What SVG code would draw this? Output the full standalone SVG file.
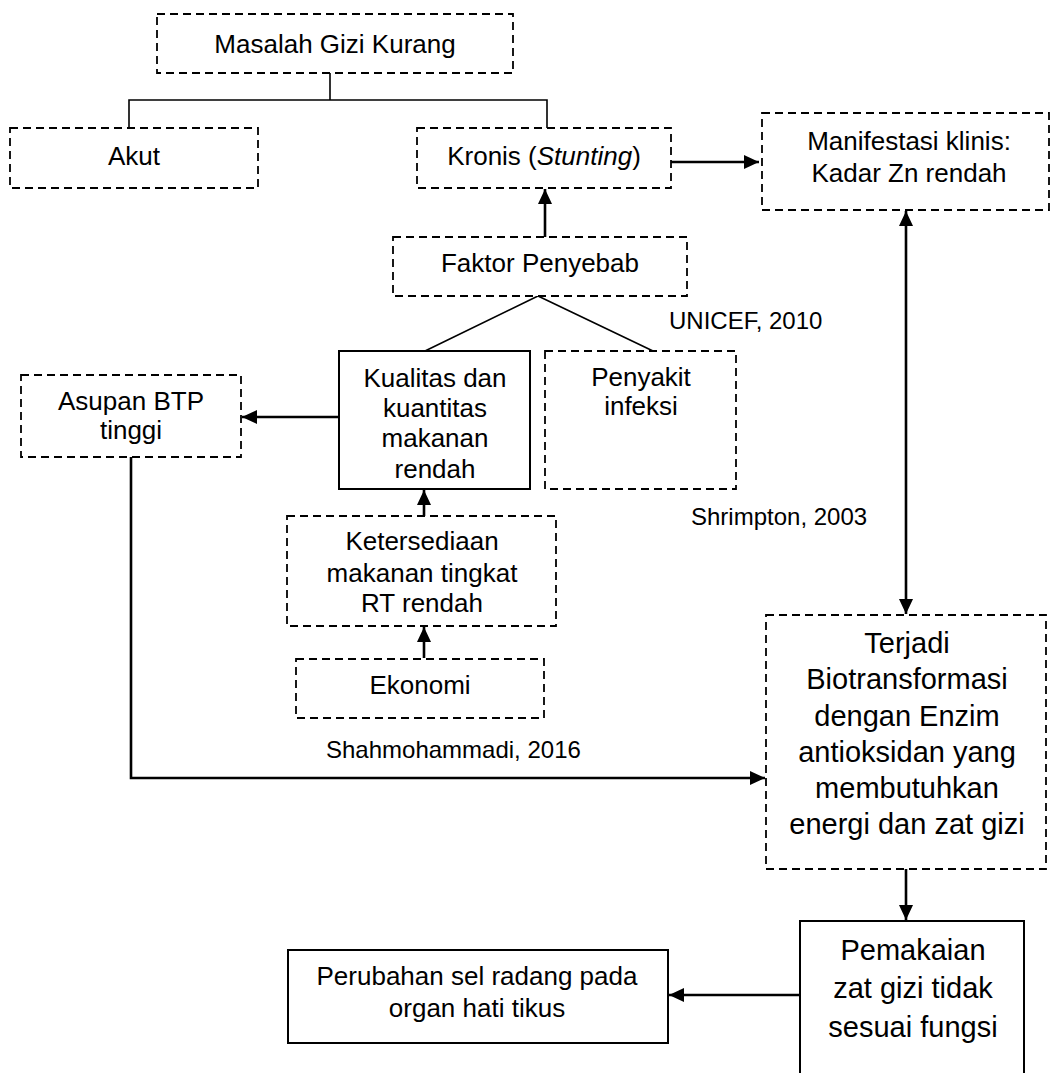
<svg xmlns="http://www.w3.org/2000/svg" width="1051" height="1073" viewBox="0 0 1051 1073">
<style>
text{font-family:"Liberation Sans",Arial,sans-serif;font-size:26px;fill:#000;text-anchor:middle}
.big{font-size:29px}
.ref{font-size:24px;text-anchor:start}
.d{fill:#fff;stroke:#000;stroke-width:1.8;stroke-dasharray:8 5}
.s{fill:#fff;stroke:#000;stroke-width:2}
.ln{fill:none;stroke:#000;stroke-width:1.6}
.ar{fill:none;stroke:#000;stroke-width:2.6}
</style>
<defs>
<marker id="ah" markerUnits="userSpaceOnUse" markerWidth="16" markerHeight="14" refX="15" refY="7" orient="auto-start-reverse">
<path d="M0,0 L15,7 L0,14 z" fill="#000"/>
</marker>
</defs>
<g id="connectors">
<path class="ln" d="M330,73 V100 M129,128 V100 H547 V128"/>
<path class="ln" d="M538,296 L425,351 M538,296 L653,351"/>
<path class="ar" d="M671,162 H759" marker-end="url(#ah)"/>
<path class="ar" d="M906,211 V614" marker-start="url(#ah)" marker-end="url(#ah)"/>
<path class="ar" d="M545,237 V189" marker-end="url(#ah)"/>
<path class="ar" d="M339,417 H242" marker-end="url(#ah)"/>
<path class="ar" d="M424,516 V490" marker-end="url(#ah)"/>
<path class="ar" d="M424,658 V627" marker-end="url(#ah)"/>
<path class="ar" d="M131,457 V778 H765" marker-end="url(#ah)"/>
<path class="ar" d="M906,869 V920" marker-end="url(#ah)"/>
<path class="ar" d="M800,995 H669" marker-end="url(#ah)"/>
</g>
<g id="masalah"><rect class="d" x="157" y="14" width="356" height="59"/><text x="335" y="53">Masalah Gizi Kurang</text></g>
<g id="akut"><rect class="d" x="10" y="128" width="248" height="60"/><text x="134" y="165">Akut</text></g>
<g id="kronis"><rect class="d" x="417" y="128" width="254" height="60"/><text x="544" y="165">Kronis (<tspan font-style="italic">Stunting</tspan>)</text></g>
<g id="manifestasi"><rect class="d" x="762" y="113" width="287" height="97"/><text x="909" y="150">Manifestasi klinis:</text><text x="909" y="182">Kadar Zn rendah</text></g>
<g id="faktor"><rect class="d" x="393" y="237" width="294" height="59"/><text x="540" y="272">Faktor Penyebab</text></g>
<g id="unicef"><text class="ref" x="669" y="329">UNICEF, 2010</text></g>
<g id="kualitas"><rect class="s" x="339" y="351" width="191" height="138"/><text x="435" y="387">Kualitas dan</text><text x="435" y="417">kuantitas</text><text x="435" y="447">makanan</text><text x="435" y="478">rendah</text></g>
<g id="penyakit"><rect class="d" x="545" y="351" width="191" height="138"/><text x="641" y="386">Penyakit</text><text x="641" y="415">infeksi</text></g>
<g id="asupan"><rect class="d" x="21" y="375" width="220" height="82"/><text x="131" y="410">Asupan BTP</text><text x="131" y="439">tinggi</text></g>
<g id="shrimpton"><text class="ref" x="691" y="525">Shrimpton, 2003</text></g>
<g id="ketersediaan"><rect class="d" x="287" y="516" width="269" height="110"/><text x="422" y="550">Ketersediaan</text><text x="422" y="582">makanan tingkat</text><text x="422" y="612">RT rendah</text></g>
<g id="ekonomi"><rect class="d" x="296" y="659" width="248" height="59"/><text x="420" y="694">Ekonomi</text></g>
<g id="shahmohammadi"><text class="ref" x="326" y="758">Shahmohammadi, 2016</text></g>
<g id="terjadi"><rect class="d" x="766" y="615" width="280" height="254"/><text class="big" x="907" y="653">Terjadi</text><text class="big" x="907" y="689">Biotransformasi</text><text class="big" x="907" y="726">dengan Enzim</text><text class="big" x="907" y="762">antioksidan yang</text><text class="big" x="907" y="798">membutuhkan</text><text class="big" x="907" y="834">energi dan zat gizi</text></g>
<g id="pemakaian"><rect class="s" x="800" y="921" width="224" height="170"/><text class="big" x="913" y="960">Pemakaian</text><text class="big" x="913" y="998">zat gizi tidak</text><text class="big" x="913" y="1037">sesuai fungsi</text></g>
<g id="perubahan"><rect class="s" x="288" y="950" width="380" height="93"/><text x="477" y="985">Perubahan sel radang pada</text><text x="477" y="1017">organ hati tikus</text></g>
</svg>
